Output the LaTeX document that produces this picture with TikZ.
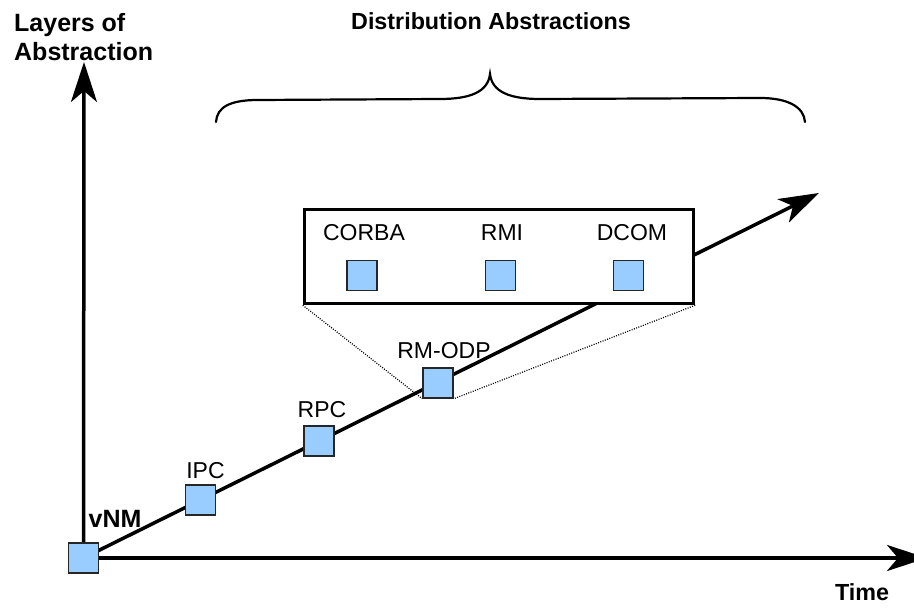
\documentclass[tikz,border=0pt]{standalone}
\usepackage{fontspec}
\setmainfont{Liberation Sans}
\usetikzlibrary{arrows.meta,backgrounds}
\definecolor{itemblue}{HTML}{99CCFF}
\begin{document}
\begin{tikzpicture}[x=1pt,y=-1pt,
  item/.style={draw=black!85, line width=1.5pt, fill=itemblue, minimum size=30pt, inner sep=0pt},
  lbl/.style={font=\fontsize{23}{27}\selectfont, inner sep=0pt},
  heading/.style={font=\bfseries\fontsize{23.3}{29}\selectfont, inner sep=0pt, align=left},
  bigheading/.style={font=\bfseries\fontsize{25}{29}\selectfont, inner sep=0pt, align=left},
  axisline/.style={line width=3.5pt, -{Stealth[length=40pt,width=26pt,inset=11pt]}},
  zoomline/.style={line width=1.2pt, dash pattern=on 1pt off 1.4pt},
  bracket/.style={line width=2.2pt, line cap=round}
]
\useasboundingbox (0,0) rectangle (914,609);

% headings
\node[bigheading, anchor=north west] (ylabel) at (14,13) {Layers of\\Abstraction};
\node[heading] (dist) at (491,21) {Distribution Abstractions};
\node[heading] (xlabel) at (862,592) {Time};

% milestones along the time line
\node[item] (vnm) at (83.5,558) {};
\node[item] (ipc) at (200.5,500) {};
\node[item] (rpc) at (319,441) {};
\node[item] (rmodp) at (438,383) {};

\node[bigheading] (vnmlbl) at (115,519) {vNM};
\node[lbl] (ipclbl) at (205.5,470.5) {IPC};
\node[lbl] (rpclbl) at (322,410) {RPC};
\node[lbl] (rmodplbl) at (444,351) {RM-ODP};

% enlarged panel of distribution middleware
\node[draw, line width=3.5pt, fill=white, minimum width=389pt, minimum height=94pt, inner sep=0pt] (panel) at (499,256.5) {};
\node[lbl] (corbalbl) at (364,233) {CORBA};
\node[lbl] (rmilbl) at (502,233) {RMI};
\node[lbl] (dcomlbl) at (632,233) {DCOM};
\node[item] (corba) at (362,275.5) {};
\node[item] (rmi) at (500.5,275.5) {};
\node[item] (dcom) at (628.5,275.5) {};

% free ends of the arrows
\coordinate (ytip) at (84,62);
\coordinate (xtip) at (927,558);
\coordinate (dtip) at (819,193);

\begin{scope}[on background layer]
  \draw[axisline] (vnm.center) -- (ytip);
  \draw[axisline] (vnm.center) -- (xtip);
  \draw[axisline] (vnm.center) -- (dtip);
  \draw[zoomline] (panel.south west) -- (rmodp.south west);
  \draw[zoomline] (panel.south east) -- (rmodp.south east);
\end{scope}

% brace over the distribution abstractions
\draw[bracket] (216,122) .. controls (217,107) and (230,100) .. (258,100)
  -- (440,99) .. controls (470,99) and (488,92) .. (490,74)
  .. controls (492,92) and (510,99) .. (540,99)
  -- (760,98) .. controls (788,98) and (804,107) .. (805,122);
\end{tikzpicture}
\end{document}
